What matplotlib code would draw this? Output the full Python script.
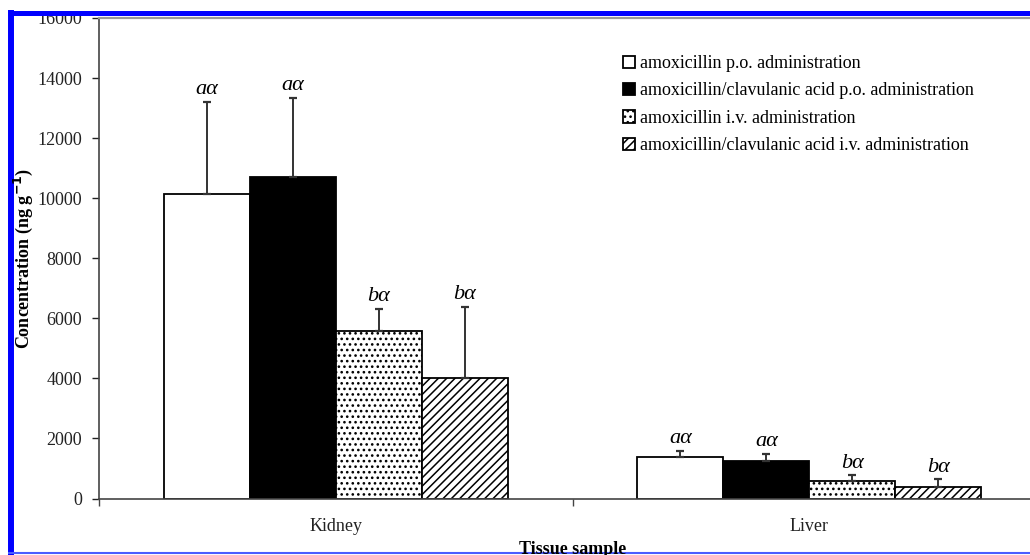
import matplotlib
matplotlib.use("Agg")
import matplotlib.pyplot as plt
import numpy as np
from matplotlib.lines import Line2D

plt.rcParams['font.family'] = ['Liberation Serif', 'DejaVu Serif']
plt.rcParams['hatch.linewidth'] = 1.1

# data
tissues = ["Kidney", "Liver"]
series = ["amoxicillin p.o. administration",
          "amoxicillin/clavulanic acid p.o. administration",
          "amoxicillin i.v. administration",
          "amoxicillin/clavulanic acid i.v. administration"]
kidney_mean = [10130, 10720, 5580, 4000]
liver_mean = [1380, 1250, 570, 380]
kidney_err = [3080, 2610, 730, 2370]
liver_err = [200, 240, 200, 260]
kidney_lab = ["a\u03b1", "a\u03b1", "b\u03b1", "b\u03b1"]
liver_lab = ["a\u03b1", "a\u03b1", "b\u03b1", "b\u03b1"]
yticks = [0, 2000, 4000, 6000, 8000, 10000, 12000, 14000, 16000]

means = [kidney_mean, liver_mean]
errs = [kidney_err, liver_err]
labs = [kidney_lab, liver_lab]

W, H = 1030, 555
fig = plt.figure(figsize=(W / 100, H / 100), dpi=100)
# plot area is cut off on the right in the original
ax = fig.add_axes([99 / W, (H - 498.5) / H, (1046 - 99) / W, (498.5 - 18) / H])

faces = ['white', 'black', 'white', 'white']
hatches = [None, None, '...', '////']
bw = 0.1816
x = np.arange(len(tissues))

for i in range(4):
    vals = [means[0][i], means[1][i]]
    ev = [errs[0][i], errs[1][i]]
    xs = x + (i - 1.5) * bw
    ax.bar(xs, vals, bw, color=faces[i], edgecolor='black', linewidth=1.3,
           hatch=hatches[i], label=series[i], zorder=2)
    ax.errorbar(xs, vals, yerr=[np.zeros(2), ev], fmt='none', ecolor='#333333',
                elinewidth=1.4, capsize=3, capthick=1.6, zorder=3)
    for k in range(2):
        ax.annotate(labs[k][i], (xs[k], vals[k] + ev[k]), xytext=(0, 2),
                    textcoords='offset points', ha='center', va='bottom',
                    fontsize=16, style='italic')

ax.set_xlim(-0.5, 1.5)
ax.set_ylim(0, 16000)
ax.set_yticks(yticks)
ax.set_yticklabels([str(v) for v in yticks], fontsize=13)
ax.tick_params(axis='y', direction='out', length=5, width=1, pad=7, colors='#222222')

ax.set_xticks([-0.5, 0.5, 1.5])
ax.set_xticklabels([])
ax.set_xticks(x, minor=True)
ax.set_xticklabels(tissues, minor=True, fontsize=13)
ax.tick_params(axis='x', which='major', direction='out', length=5, width=1, colors='#444444')
ax.tick_params(axis='x', which='minor', length=0, pad=14, labelcolor='#222222')

for s in ['left', 'bottom']:
    ax.spines[s].set_color('#444444')
    ax.spines[s].set_linewidth(1.2)
ax.spines['top'].set_color('#999999')
ax.spines['top'].set_linewidth(1.6)
ax.spines['right'].set_visible(False)

fig.text(23 / W, (H - 258) / H, "Concentration (ng g$^{\\mathbf{-1}}$)", rotation=90,
         ha='center', va='center', fontsize=13, fontweight='bold')
fig.text(572.7 / W, (H - 541) / H, "Tissue sample", ha='center', va='top',
         fontsize=13, fontweight='bold')

fig.legend(loc='upper left', bbox_to_anchor=(623 / W, (H - 55) / H), frameon=False,
           fontsize=13, borderpad=0, borderaxespad=0, handlelength=0.67,
           handleheight=0.67, handletextpad=0.25, labelspacing=0.58)

# blue frame of the cropped figure
fig.add_artist(Line2D([11 / W, 11 / W], [0, (H - 10) / H], color='#0000ff', lw=4.3,
                      solid_capstyle='butt', transform=fig.transFigure))
fig.add_artist(Line2D([8 / W, 1], [(H - 12.5) / H, (H - 12.5) / H], color='#0000ff', lw=3.6,
                      solid_capstyle='butt', transform=fig.transFigure))
fig.add_artist(Line2D([8 / W, 1], [(H - 553) / H, (H - 553) / H], color='#4a5cff', lw=1.5,
                      solid_capstyle='butt', transform=fig.transFigure))

fig.savefig("out.png", dpi=100)
